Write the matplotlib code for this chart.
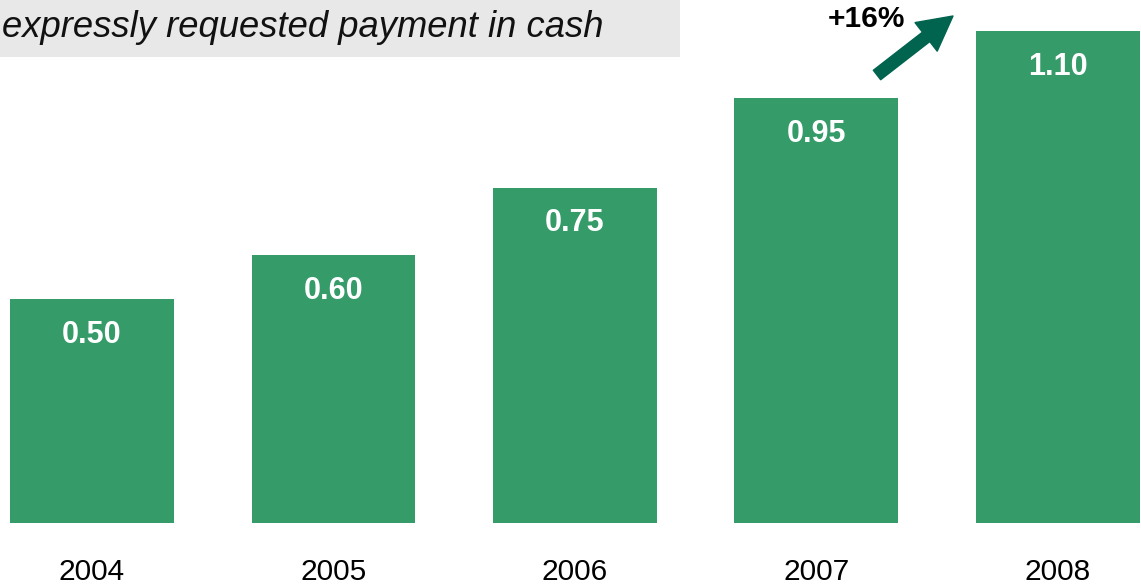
import matplotlib
matplotlib.use("Agg")
import matplotlib.pyplot as plt
from matplotlib.patches import Rectangle

years = ["2004", "2005", "2006", "2007", "2008"]
values = [0.50, 0.60, 0.75, 0.95, 1.10]
labels = ["0.50", "0.60", "0.75", "0.95", "1.10"]
title = "expressly requested payment in cash"
growth = "+16%"

bar_color = "#359b69"
arrow_color = "#00644f"

plt.rcParams["font.family"] = ["Liberation Sans", "DejaVu Sans"]

fig = plt.figure(figsize=(11.41, 5.86), dpi=100)
ax = fig.add_axes([0, 0, 1, 1])
ax.set_xlim(-0.381, 4.344)
ax.set_ylim(-0.141, 1.170)
ax.axis("off")

x = range(len(years))
ax.bar(x, values, width=0.679, color=bar_color, edgecolor="none")

for i, (v, lab) in enumerate(zip(values, labels)):
    ax.text(i, v - 0.08, lab, ha="center", va="center", color="white",
            fontsize=22, fontweight="bold")
    ax.text(i, -0.11, years[i], ha="center", va="center", color="black",
            fontsize=21.5)

# grey title box
fig.patches.append(Rectangle((0, 1 - 57 / 586), 680 / 1141, 57 / 586,
                             transform=fig.transFigure, facecolor="#e8e8e8",
                             edgecolor="none", zorder=0))
fig.text(2 / 1141, 1 - 37 / 586, title, ha="left", va="baseline",
         fontsize=26.2, style="italic", color="#111111")

# growth arrow
ax.annotate("", xy=(953, 586 - 16), xytext=(877, 586 - 75),
            xycoords="figure pixels", textcoords="figure pixels",
            arrowprops=dict(arrowstyle="simple,head_length=2.45,head_width=2.6,tail_width=0.86",
                            mutation_scale=10, color=arrow_color,
                            shrinkA=0, shrinkB=0))
fig.text(866 / 1141, 1 - 19 / 586, growth, ha="center", va="center",
         fontsize=21.5, fontweight="bold", color="black")

fig.savefig("out.png", dpi=100)
